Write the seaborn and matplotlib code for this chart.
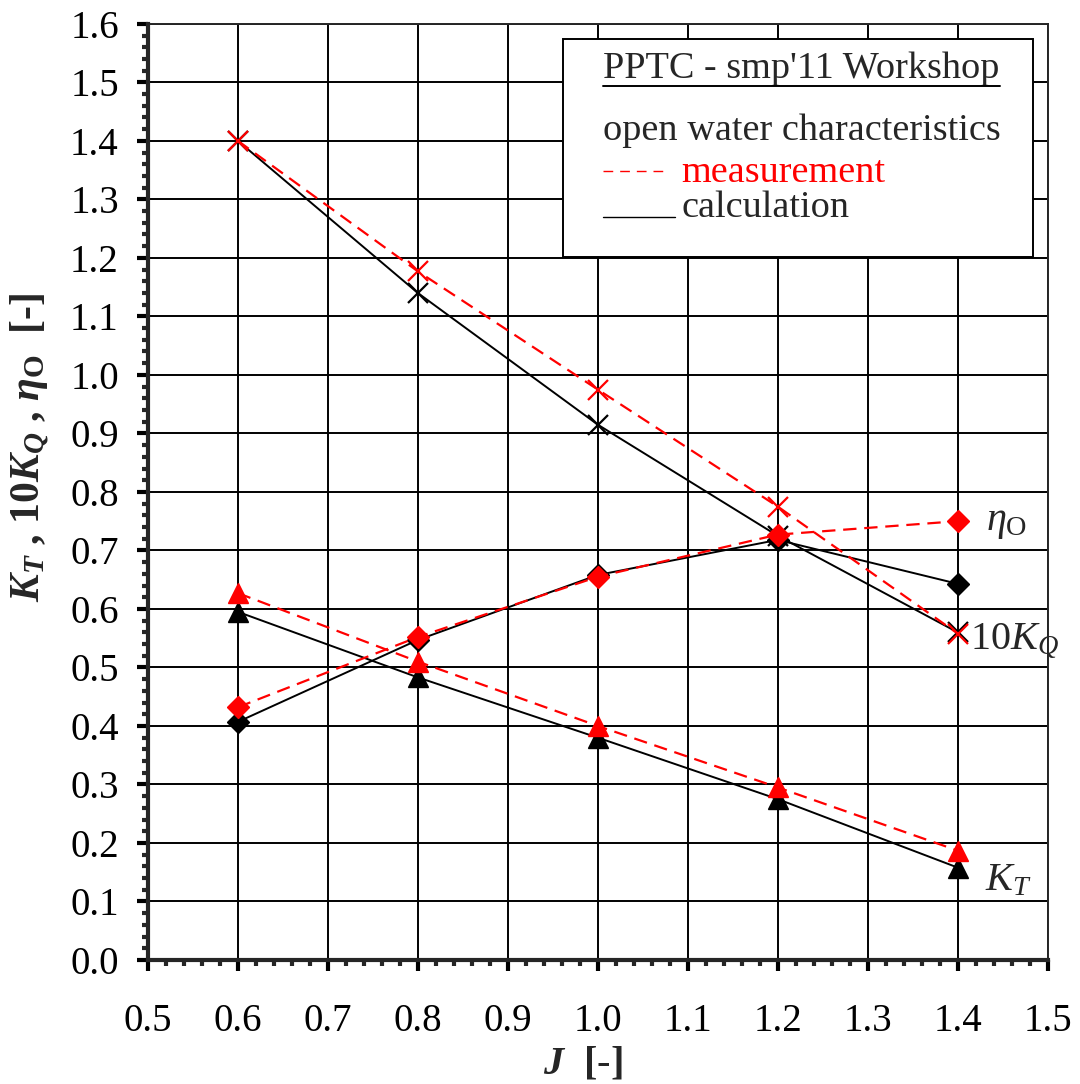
import numpy as np
import pandas as pd
import matplotlib.pyplot as plt
import seaborn as sns
from matplotlib.patches import Rectangle
from matplotlib.lines import Line2D
from matplotlib.ticker import MultipleLocator

# advance coefficient
J = [0.6, 0.8, 1.0, 1.2, 1.4]

# measurement (red, dashed)
kt_meas = [0.627, 0.510, 0.400, 0.295, 0.187]
kq10_meas = [1.400, 1.177, 0.975, 0.775, 0.558]
eta_meas = [0.432, 0.552, 0.655, 0.727, 0.750]

# calculation (black, solid)
kt_calc = [0.595, 0.483, 0.380, 0.275, 0.158]
kq10_calc = [1.400, 1.140, 0.915, 0.725, 0.560]
eta_calc = [0.407, 0.547, 0.658, 0.718, 0.643]

sns.set_style("ticks")
plt.rcParams["font.family"] = ["Liberation Serif", "DejaVu Serif"]
plt.rcParams["mathtext.fontset"] = "custom"
plt.rcParams["mathtext.rm"] = "Liberation Serif"
plt.rcParams["mathtext.it"] = "Liberation Serif:italic"
plt.rcParams["mathtext.bf"] = "Liberation Serif:bold"
plt.rcParams["mathtext.bfit"] = "Liberation Serif:bold:italic"

fig = plt.figure(figsize=(10.8, 10.84), dpi=100)
ax = fig.add_axes([0.137, 0.1144, 0.833, 0.8636])

# calculation first so that the measurement markers sit on top
calc = [(kt_calc, "^", 15, 1), (eta_calc, "D", 11, 1), (kq10_calc, "x", 14.5, 1.6)]
for vals, mk, ms, mew in calc:
    sns.lineplot(x=J, y=vals, ax=ax, color="black", lw=1.4, marker=mk,
                 markersize=ms, markeredgewidth=mew, markeredgecolor="black",
                 sort=False, errorbar=None, zorder=4)

meas = [(kt_meas, "^", 15, 1), (eta_meas, "D", 11, 1), (kq10_meas, "x", 14.5, 1.6)]
for vals, mk, ms, mew in meas:
    sns.lineplot(x=J, y=vals, ax=ax, color="red", lw=1.6, marker=mk,
                 markersize=ms, markeredgewidth=mew, markeredgecolor="red",
                 dashes=(6, 3.5), sort=False, errorbar=None, zorder=5)

ax.set_xlim(0.5, 1.5)
ax.set_ylim(0.0, 1.6)
ax.xaxis.set_major_locator(MultipleLocator(0.1))
ax.xaxis.set_minor_locator(MultipleLocator(0.02))
ax.yaxis.set_major_locator(MultipleLocator(0.1))
ax.yaxis.set_minor_locator(MultipleLocator(0.02))
ax.xaxis.set_major_formatter(plt.FormatStrFormatter("%.1f"))
ax.yaxis.set_major_formatter(plt.FormatStrFormatter("%.1f"))

ax.grid(True, which="major", color="black", lw=1.4)
ax.set_axisbelow(True)
for s in ["left", "bottom"]:
    ax.spines[s].set_linewidth(3)
for s in ["top", "right"]:
    ax.spines[s].set_linewidth(1.4)

ax.tick_params(which="major", direction="out", length=8, width=3,
               labelsize=28, colors="black")
ax.tick_params(which="minor", direction="out", length=4.5, width=3)
ax.tick_params(axis="x", which="major", pad=23)
ax.tick_params(axis="y", which="major", pad=13)

ax.set_xlabel(r"$\mathbfit{J}$  [-]", fontsize=29, fontweight="bold")
ax.xaxis.set_label_coords(0.483, -0.091)
ax.set_ylabel(r"$\mathbfit{K}_\mathbfit{T}$ , $\mathbf{10}\mathbfit{K}_\mathbfit{Q}$ , "
              r"$\mathbfit{\eta}_\mathbf{O}$  [-]", fontsize=30, fontweight="bold")
ax.yaxis.set_label_coords(-0.108, 0.548)

# curve labels
ax.text(1.432, 0.747, r"$\mathit{\eta}_\mathrm{O}$", fontsize=29, va="center")
ax.text(1.414, 0.545, r"10$\mathit{K}_\mathit{Q}$", fontsize=29, va="center")
ax.text(1.430, 0.135, r"$\mathit{K}_\mathit{T}$", fontsize=29, va="center")

# legend box
ax.add_patch(Rectangle((0.461, 0.751), 0.5223, 0.233, transform=ax.transAxes,
                       facecolor="white", edgecolor="black", lw=1.4, zorder=10))
tx = 0.5056
ax.text(tx, 0.9423, "PPTC - smp'11 Workshop", transform=ax.transAxes,
        fontsize=27.5, va="baseline", zorder=11)
ax.add_line(Line2D([tx, 0.9467], [0.9338, 0.9338], transform=ax.transAxes,
                   color="black", lw=1.4, zorder=11))
ax.text(tx, 0.8761, "open water characteristics", transform=ax.transAxes,
        fontsize=27.5, va="baseline", zorder=11)
ax.add_line(Line2D([tx, 0.5778], [0.8423, 0.8423], transform=ax.transAxes,
                   color="red", lw=1.0, dashes=(7, 5), zorder=11))
ax.text(0.5933, 0.8312, "measurement", transform=ax.transAxes, fontsize=27.5,
        color="red", va="baseline", zorder=11)
ax.add_line(Line2D([tx, 0.5856], [0.7941, 0.7941], transform=ax.transAxes,
                   color="black", lw=1.0, zorder=11))
ax.text(0.5933, 0.7938, "calculation", transform=ax.transAxes, fontsize=27.5,
        va="baseline", zorder=11)

fig.savefig("out.png", dpi=100)
